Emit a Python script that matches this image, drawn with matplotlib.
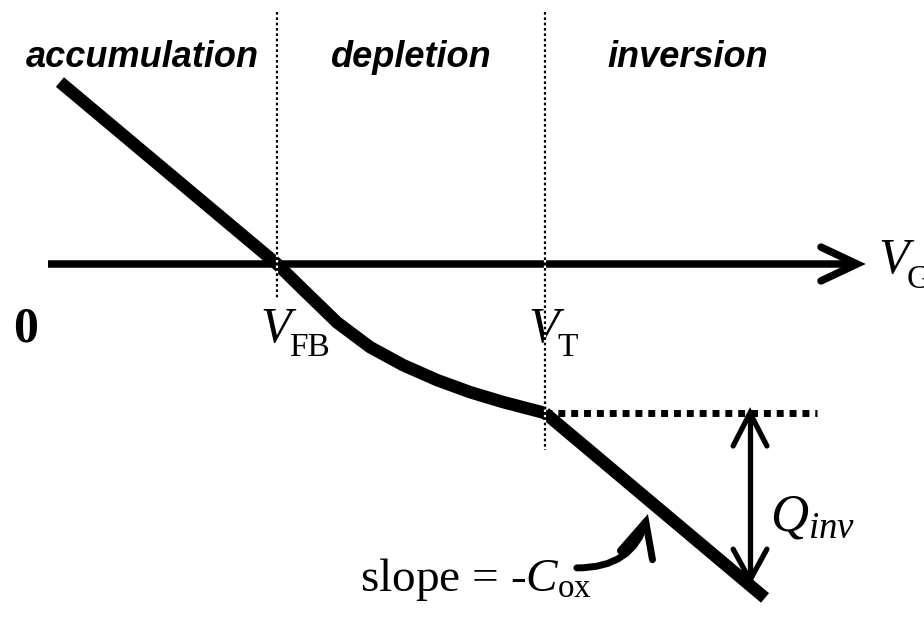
import matplotlib
matplotlib.use("Agg")
import matplotlib.pyplot as plt
from matplotlib import font_manager
from matplotlib.patches import FancyArrowPatch

# ---------------- data (schematic units: V_FB = 1, V_T = 2) ----------------
V_FB = 1.0
V_T = 2.0
accum_V = [0.19, 1.0]
accum_Q = [0.679, 0.0]
depl_V = [1.0, 1.097, 1.224, 1.347, 1.470, 1.597, 1.720, 1.843, 2.0]
depl_Q = [0.0, -0.095, -0.218, -0.310, -0.377, -0.433, -0.478, -0.515, -0.556]
inv_V = [2.0, 2.821]
inv_Q = [-0.556, -1.246]
Q_T = -0.556          # charge level at threshold
Q_inv_bottom = -1.179  # bottom of Q_inv arrow
V_qarrow = 2.765
region_labels = ["accumulation", "depletion", "inversion"]
region_x = [0.496, 1.50, 2.534]

# ---------------- fonts ----------------
names = {f.name for f in font_manager.fontManager.ttflist}
narrow = "Liberation Sans Narrow" in names
region_family = "Liberation Sans Narrow" if narrow else "Liberation Sans"
region_size = 32 if narrow else 26

plt.rcParams["mathtext.fontset"] = "custom"
plt.rcParams["mathtext.rm"] = "Liberation Serif"
plt.rcParams["mathtext.it"] = "Liberation Serif:italic"
plt.rcParams["mathtext.bf"] = "Liberation Serif:bold"

fig = plt.figure(figsize=(9.24, 6.21), dpi=100)
ax = fig.add_axes([0, 0, 1, 1])
ax.set_xlim(-0.0336, 3.4142)
ax.set_ylim(-1.3321, 0.9851)
ax.axis("off")

K = "black"
SERIF = "Liberation Serif"

# horizontal V_G axis with open arrow head
ax.plot([0.146, 3.160], [0, 0], color=K, lw=5.4, solid_capstyle="butt", zorder=2)
ax.plot([3.164 - 0.134, 3.164, 3.164 - 0.134], [0.063, 0, -0.063], color=K, lw=5.4,
        solid_capstyle="round", solid_joinstyle="miter", zorder=2)

# Q-V curve
ax.plot(accum_V + depl_V[1:], accum_Q + depl_Q[1:], color=K, lw=9,
        solid_capstyle="butt", solid_joinstyle="round", zorder=3)
ax.plot(inv_V, inv_Q, color=K, lw=9, solid_capstyle="butt", zorder=3)

# vertical dotted lines at V_FB and V_T
ax.plot([V_FB, V_FB], [0.94, -0.134], color=K, lw=1.6, ls=(0, (1.2, 1.2)),
        gapcolor="white", zorder=5)
ax.plot([V_T, V_T], [0.94, -0.694], color=K, lw=1.6, ls=(0, (1.2, 1.2)),
        gapcolor="white", zorder=5)

# thick dotted horizontal line at Q_T
ax.plot([V_T, 3.015], [Q_T, Q_T], color=K, lw=5.0, ls=(0, (1.0, 0.85)),
        dash_capstyle="butt", zorder=4)

# Q_inv double arrow
ax.plot([V_qarrow, V_qarrow], [Q_T, Q_inv_bottom], color=K, lw=3.8,
        solid_capstyle="butt", zorder=4)
ax.plot([V_qarrow - 0.063, V_qarrow, V_qarrow + 0.063],
        [Q_T - 0.123, Q_T, Q_T - 0.123], color=K, lw=3.8,
        solid_capstyle="round", solid_joinstyle="miter", zorder=4)
ax.plot([V_qarrow - 0.063, V_qarrow, V_qarrow + 0.063],
        [Q_inv_bottom + 0.115, Q_inv_bottom, Q_inv_bottom + 0.115], color=K, lw=3.8,
        solid_capstyle="round", solid_joinstyle="miter", zorder=4)

# curved arrow for slope annotation
arr = FancyArrowPatch((2.119, -1.134), (2.384, -0.933),
                      connectionstyle="arc3,rad=0.38",
                      arrowstyle="->,head_length=1.25,head_width=0.6",
                      mutation_scale=20, lw=5, color=K, shrinkA=0, shrinkB=0,
                      capstyle="round", joinstyle="miter", zorder=4)
ax.add_patch(arr)

# region labels
for lab, x in zip(region_labels, region_x):
    ax.text(x, 0.735, lab, ha="center", va="baseline", family=region_family,
            weight="bold", style="italic", fontsize=region_size, color=K)

# axis labels
ax.text(0.015, -0.291, "0", ha="left", va="baseline", family=SERIF,
        weight="bold", fontsize=36, color=K)


def vlabel(x_main, y_main, x_sub, y_sub, sub):
    ax.text(x_main, y_main, "V", ha="left", va="baseline", family=SERIF,
            style="italic", fontsize=36, color=K)
    ax.text(x_sub, y_sub, sub, ha="left", va="baseline", family=SERIF,
            fontsize=24, color=K)


vlabel(0.937, -0.291, 1.045, -0.343, "FB")
vlabel(1.937, -0.291, 2.045, -0.343, "T")
vlabel(3.243, -0.034, 3.350, -0.090, "G")

ax.text(2.175, -1.220, r"slope = -$C_{\mathrm{ox}}$", ha="right", va="baseline",
        family=SERIF, fontsize=34, color=K)
ax.text(2.84, -0.993, r"$Q_{inv}$", ha="left", va="baseline", fontsize=38, color=K)

fig.savefig("out.png", dpi=100)
